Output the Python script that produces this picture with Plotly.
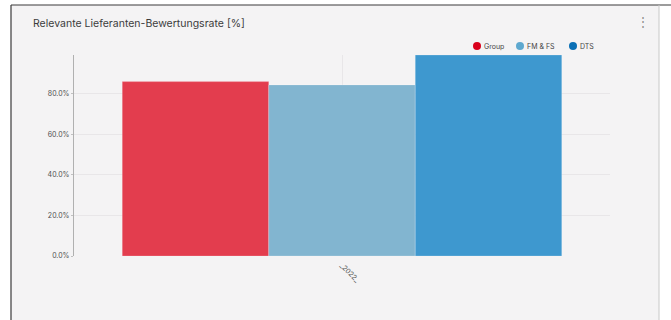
import plotly.graph_objects as go

# Data
categories = ["_2022_"]
series_names = ["Group", "FM & FS", "DTS"]
series_values = [[85.8], [84.2], [98.9]]
bar_colors = ["#e33d4e", "#82b5d0", "#3e98cf"]
legend_colors = ["#d9001b", "#5ea8cf", "#0a6fb5"]
y_ticks = [0, 20, 40, 60, 80]
y_tick_labels = ["0.0%", "20.0%", "40.0%", "60.0%", "80.0%"]
title_text = "Relevante Lieferanten-Bewertungsrate [%]"

W, H = 671, 320
ML, MR, MT, MB = 74, 61, 55, 64
PW, PH = W - ML - MR, H - MT - MB


def px(x):
    return (x - ML) / PW


def py(y):
    return (H - MB - y) / PH


fig = go.Figure()
for name, vals, col in zip(series_names, series_values, bar_colors):
    fig.add_trace(go.Bar(
        x=categories, y=vals, name=name, showlegend=False,
        marker=dict(color=col, line=dict(color="rgba(255,255,255,0.35)", width=0.6)),
    ))

shapes = [
    # card background and frame
    dict(type="rect", xref="paper", yref="paper", x0=px(11), x1=px(659), y0=py(330), y1=py(5),
         fillcolor="#f4f3f4", line=dict(width=0), layer="below"),
    dict(type="line", xref="paper", yref="paper", x0=px(11), x1=px(11), y0=py(330), y1=py(5),
         line=dict(color="#3a3a3a", width=1.2)),
    dict(type="line", xref="paper", yref="paper", x0=px(11), x1=px(671), y0=py(5), y1=py(5),
         line=dict(color="#3a3a3a", width=1.2)),
    dict(type="line", xref="paper", yref="paper", x0=px(659), x1=px(659), y0=py(330), y1=py(5),
         line=dict(color="#c8c8c8", width=1)),
]

annotations = [
    dict(text=title_text, xref="paper", yref="paper", x=px(31), y=py(24), xanchor="left",
         yanchor="middle", showarrow=False, font=dict(size=10.5, color="#3c3c3c", family="Inter")),
    dict(text="⋮", xref="paper", yref="paper", x=px(643), y=py(22), xanchor="center",
         yanchor="middle", showarrow=False, font=dict(size=12, color="#8a8a8a")),
]

# legend: circle markers with labels
legend_x = [477, 520, 573]
for name, col, lx in zip(series_names, legend_colors, legend_x):
    shapes.append(dict(type="circle", xref="paper", yref="paper",
                       x0=px(lx - 4), x1=px(lx + 4), y0=py(50), y1=py(42),
                       fillcolor=col, line=dict(width=0)))
    annotations.append(dict(text=name, xref="paper", yref="paper", x=px(lx + 5), y=py(46),
                            xanchor="left", yanchor="middle", showarrow=False,
                            font=dict(size=7, color="#444", family="Inter")))

fig.update_layout(
    width=W, height=H,
    margin=dict(l=ML, r=MR, t=MT, b=MB),
    paper_bgcolor="white",
    plot_bgcolor="rgba(0,0,0,0)",
    barmode="group", bargap=0.18, bargroupgap=0,
    shapes=shapes, annotations=annotations,
    xaxis=dict(
        showgrid=True, gridcolor="#e8e6e8", gridwidth=1,
        tickangle=45, tickfont=dict(size=7, color="#555", family="Inter"),
        showline=False, zeroline=False, ticks="", ticklabelstandoff=3,
    ),
    yaxis=dict(
        range=[0, 98.9], tickmode="array", tickvals=y_ticks, ticktext=y_tick_labels,
        showgrid=True, gridcolor="#e8e6e8", gridwidth=1,
        showline=True, linecolor="#b0b0b0", linewidth=1.2,
        ticks="outside", ticklen=2, tickcolor="#c0c0c0",
        zeroline=False,
        tickfont=dict(size=7, color="#505050", family="Inter"),
    ),
    showlegend=False,
)

fig.write_html("out.html")
